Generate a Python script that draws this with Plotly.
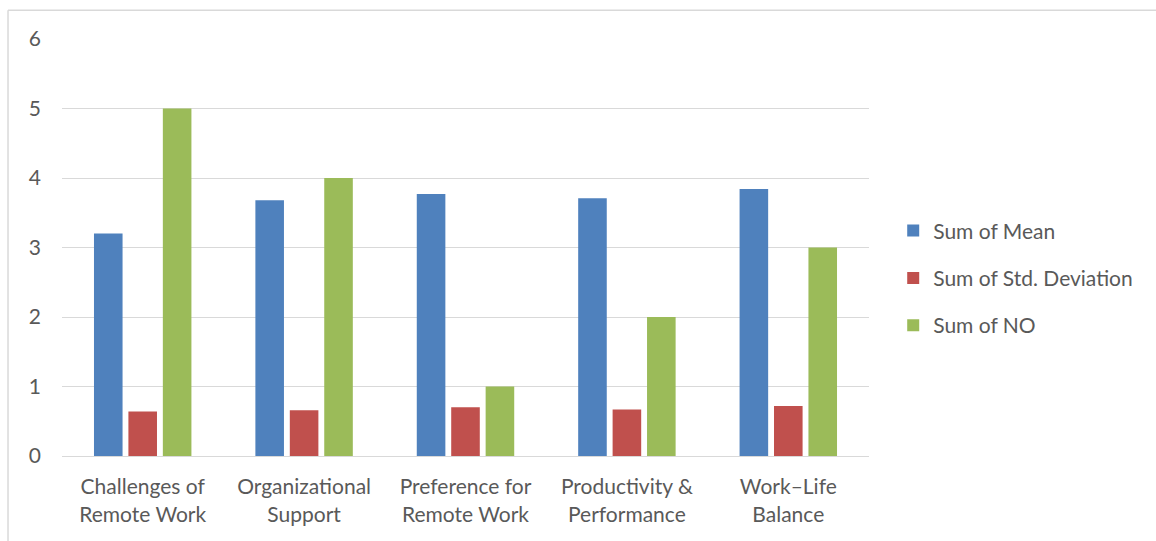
import plotly.graph_objects as go

categories = ["Challenges of<br>Remote Work", "Organizational<br>Support", "Preference for<br>Remote Work",
              "Productivity &<br>Performance", "Work–Life<br>Balance"]
mean_vals = [3.20, 3.68, 3.77, 3.71, 3.84]
std_vals = [0.64, 0.66, 0.70, 0.67, 0.72]
no_vals = [5, 4, 1, 2, 3]
series_names = ["Sum of Mean", "Sum of Std. Deviation", "Sum of NO"]
colors = ["#4F81BD", "#C0504D", "#9BBB59"]
y_ticks = [0, 1, 2, 3, 4, 5, 6]

FONT = "Lato"
TXT = "#595959"

fig = go.Figure()
for name, vals, col in zip(series_names, [mean_vals, std_vals, no_vals], colors):
    fig.add_trace(go.Bar(x=categories, y=vals, name=name, legendgroup=name,
                         marker=dict(color=col, line=dict(width=0))))

fig.update_layout(
    width=1156, height=541,
    margin=dict(l=62, r=287, t=39, b=85),
    paper_bgcolor="white", plot_bgcolor="white",
    barmode="group", bargap=0.36, bargroupgap=0.17,
    font=dict(family=FONT, color=TXT, size=21),
    showlegend=True,
    legend=dict(x=1.03, y=0.427, xanchor="left", yanchor="middle",
                font=dict(family=FONT, size=21, color=TXT),
                itemwidth=30, tracegroupgap=17, bgcolor="rgba(0,0,0,0)"),
    xaxis=dict(showgrid=False, showline=True, linecolor="#d9d9d9", linewidth=1,
               ticks="", ticklabelstandoff=12, tickfont=dict(family=FONT, size=21, color=TXT)),
    yaxis=dict(range=[0, 6], tickvals=y_ticks, showgrid=True, gridcolor="#d9d9d9", gridwidth=1,
               zeroline=False, showline=False, ticks="", ticklabelstandoff=20,
               tickfont=dict(family=FONT, size=21, color=TXT)),
    shapes=[
        dict(type="line", xref="paper", yref="paper", x0=-0.0669, x1=1.5, y0=1.069, y1=1.069,
             line=dict(color="#d9d9d9", width=1.5)),
        dict(type="line", xref="paper", yref="paper", x0=-0.0669, x1=-0.0669, y0=1.069, y1=-0.5,
             line=dict(color="#d9d9d9", width=1.5)),
    ],
)
fig.write_html("out.html")
